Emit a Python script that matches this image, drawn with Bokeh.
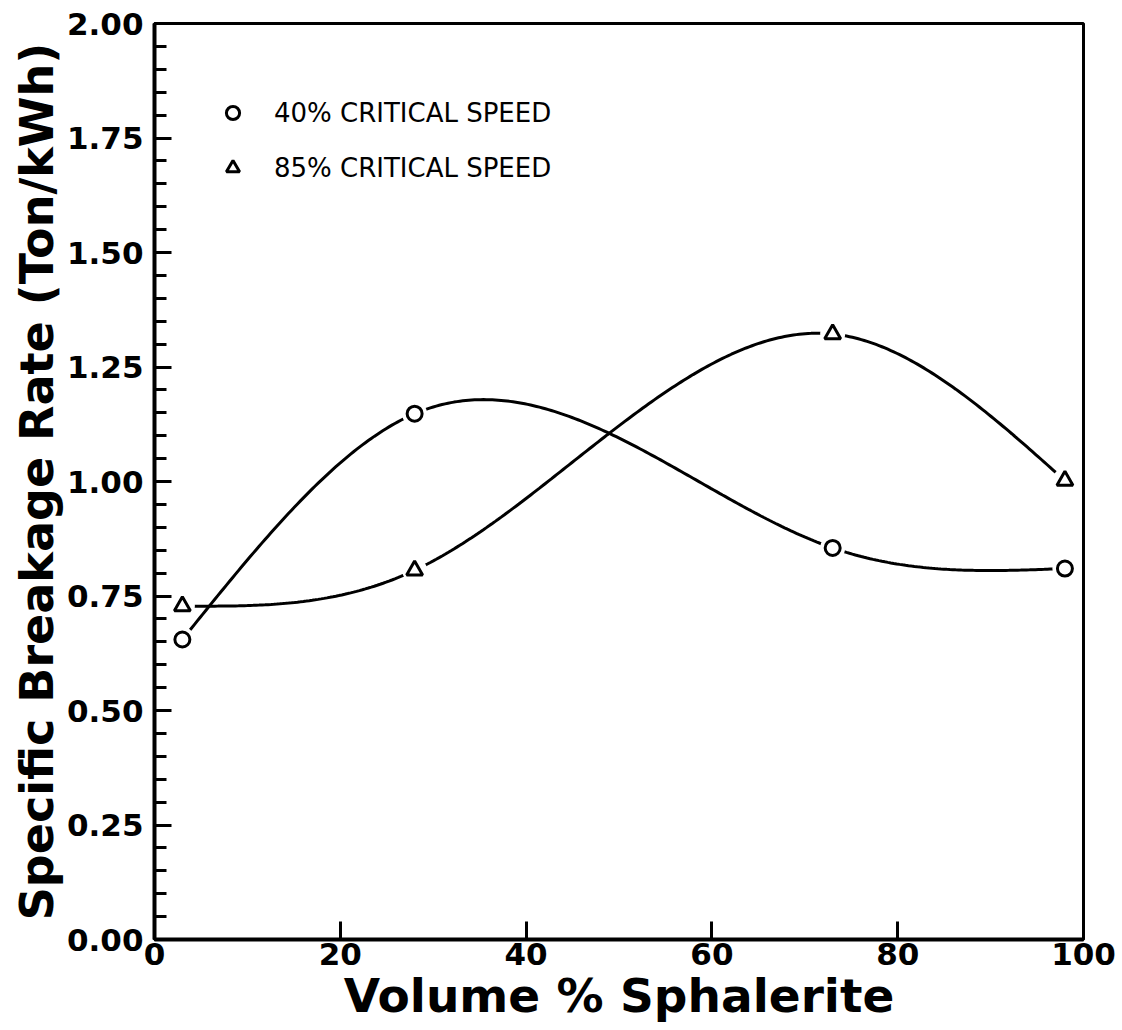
import numpy as np
from bokeh.plotting import figure
from bokeh.models import Range1d, FixedTicker, NumeralTickFormatter, Legend, LegendItem
from bokeh.embed import file_html
from bokeh.resources import INLINE

# ---- data ----
volume_pct = [3, 28, 73, 98]
rate_40 = [0.655, 1.148, 0.855, 0.81]
rate_85 = [0.728, 0.806, 1.322, 1.002]
series_labels = ["40% CRITICAL SPEED", "85% CRITICAL SPEED"]
x_ticks = [0, 20, 40, 60, 80, 100]
y_ticks = [0.0, 0.25, 0.5, 0.75, 1.0, 1.25, 1.5, 1.75, 2.0]
y_minor = [round(i * 0.05, 2) for i in range(41)]
x_title = "Volume % Sphalerite"
y_title = "Specific Breakage Rate (Ton/kWh)"


def natural_spline(xs, ys, n=300):
    x = np.asarray(xs, float)
    y = np.asarray(ys, float)
    k = len(x)
    h = np.diff(x)
    d = np.diff(y) / h
    A = np.zeros((k, k))
    r = np.zeros(k)
    A[0, 0] = 1
    A[-1, -1] = 1
    for i in range(1, k - 1):
        A[i, i - 1] = h[i - 1]
        A[i, i] = 2 * (h[i - 1] + h[i])
        A[i, i + 1] = h[i]
        r[i] = 6 * (d[i] - d[i - 1])
    M = np.linalg.solve(A, r)
    xx = np.linspace(x[0], x[-1], n)
    idx = np.clip(np.searchsorted(x, xx) - 1, 0, k - 2)
    x0, x1 = x[idx], x[idx + 1]
    hh = x1 - x0
    a = (x1 - xx) / hh
    b = (xx - x0) / hh
    yy = (a * y[idx] + b * y[idx + 1]
          + ((a ** 3 - a) * M[idx] + (b ** 3 - b) * M[idx + 1]) * hh ** 2 / 6)
    return xx, yy


FONT = "DejaVu Sans"

p = figure(width=1122, height=1030, output_backend="svg", toolbar_location=None,
           x_range=Range1d(0, 100), y_range=Range1d(0, 2),
           min_border_left=154, min_border_right=39, min_border_top=23, min_border_bottom=91)
p.background_fill_color = "white"
p.border_fill_color = "white"
p.xgrid.visible = False
p.ygrid.visible = False
p.outline_line_color = "black"
p.outline_line_width = 3

for ax in (p.xaxis[0], p.yaxis[0]):
    ax.axis_line_width = 4
    ax.axis_line_color = "black"
    ax.major_tick_line_width = 3
    ax.minor_tick_line_width = 3
    ax.major_tick_out = 0
    ax.minor_tick_out = 0
    ax.major_label_text_font = FONT
    ax.major_label_text_font_style = "bold"
    ax.major_label_text_font_size = "31px"
    ax.major_label_text_color = "black"
    ax.axis_label_text_font = FONT
    ax.axis_label_text_font_style = "bold"
    ax.axis_label_text_color = "black"

p.xaxis.ticker = FixedTicker(ticks=x_ticks)
p.xaxis.major_tick_in = 18
p.xaxis.minor_tick_line_color = None
p.xaxis.major_label_standoff = 3
p.xaxis.axis_label = x_title
p.xaxis.axis_label_text_font_size = "47px"
p.xaxis.axis_label_standoff = 0

p.yaxis.ticker = FixedTicker(ticks=y_ticks, minor_ticks=y_minor)
p.yaxis.formatter = NumeralTickFormatter(format="0.00")
p.yaxis.major_tick_in = 17
p.yaxis.minor_tick_in = 12
p.yaxis.major_label_standoff = 11
p.yaxis.axis_label = y_title
p.yaxis.axis_label_text_font_size = "46px"
p.yaxis.axis_label_standoff = 0

# smooth curves through the points
for ys in (rate_40, rate_85):
    xx, yy = natural_spline(volume_pct, ys)
    p.line(xx, yy, line_color="black", line_width=3)

# white halos that break the curves near each marker
for ys in (rate_40, rate_85):
    p.scatter(volume_pct, ys, marker="circle", size=25, fill_color="white",
              line_color=None)

r40 = p.scatter(volume_pct, rate_40, marker="circle", size=15, fill_color="white",
                line_color="black", line_width=3)
r85 = p.scatter(volume_pct, rate_85, marker="triangle", size=16, fill_color="white",
                line_color="black", line_width=3)

legend = Legend(items=[LegendItem(label=series_labels[0], renderers=[r40]),
                       LegendItem(label=series_labels[1], renderers=[r85])],
                location="top_left", margin=62, padding=0,
                glyph_width=33, glyph_height=55, label_height=55, spacing=0,
                label_standoff=25, border_line_color=None, background_fill_alpha=0,
                label_text_font=FONT, label_text_font_size="26px",
                label_text_color="black")
p.add_layout(legend)

open("out.html", "w").write(file_html(p, INLINE))
